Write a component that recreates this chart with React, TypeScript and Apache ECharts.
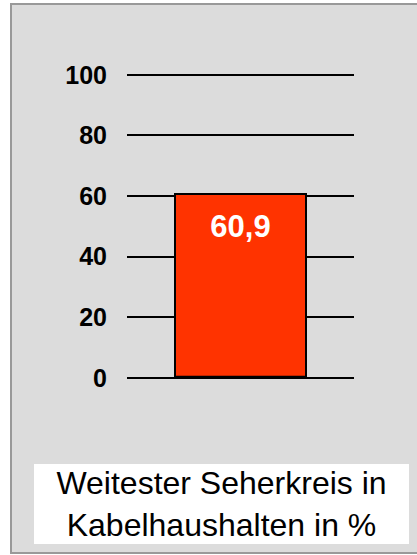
import React, { useEffect, useRef } from "react";
import * as echarts from "echarts";

const categories = ["Kabelhaushalte"];
const values = [60.9];
const yTicks = [0, 20, 40, 60, 80, 100];
const captionLines = ["Weitester Seherkreis in", "Kabelhaushalten in %"];

export default function App() {
  const ref = useRef<HTMLDivElement>(null);
  useEffect(() => {
    if (!ref.current) return;
    const chart = echarts.init(ref.current, undefined, { renderer: "svg" });
    chart.setOption({
      animation: false,
      backgroundColor: "#ffffff",
      graphic: [
        {
          type: "rect",
          z: -10,
          shape: { x: 11, y: 4, width: 420, height: 549 },
          style: { fill: "#DCDCDC", stroke: "#999999", lineWidth: 2 },
          silent: true,
        },
        {
          type: "rect",
          z: -5,
          shape: { x: 34, y: 464, width: 375, height: 80 },
          style: { fill: "#ffffff" },
          silent: true,
        },
        {
          type: "text",
          x: 221.5,
          y: 504,
          style: {
            text: captionLines.join("\n"),
            fill: "#000000",
            font: "32px Arial, 'Liberation Sans', sans-serif",
            align: "center",
            verticalAlign: "middle",
            lineHeight: 42,
          },
        },
      ],
      grid: { left: 127, top: 74.5, width: 227, height: 303.3, containLabel: false },
      xAxis: {
        type: "category",
        data: categories,
        show: false,
      },
      yAxis: {
        type: "value",
        min: yTicks[0],
        max: yTicks[yTicks.length - 1],
        interval: 20,
        axisLine: { show: false },
        axisTick: { show: false },
        axisLabel: {
          margin: 20,
          color: "#000000",
          fontSize: 25,
          fontWeight: "bold",
          fontFamily: "Arial, 'Liberation Sans', sans-serif",
        },
        splitLine: { show: true, lineStyle: { color: "#000000", width: 2 } },
      },
      series: [
        {
          type: "bar",
          data: values,
          barWidth: 133,
          itemStyle: { color: "#FF3300", borderColor: "#000000", borderWidth: 2 },
          label: {
            show: true,
            position: "insideTop",
            distance: 18,
            formatter: (p: any) => String(p.value).replace(".", ","),
            color: "#ffffff",
            fontSize: 31,
            fontWeight: "bold",
            fontFamily: "Arial, 'Liberation Sans', sans-serif",
          },
          z: 3,
        },
      ],
    });
    return () => chart.dispose();
  }, []);
  return (
    <div
      ref={ref}
      style={{ position: "absolute", left: 0, top: 0, width: 417, height: 555 }}
    />
  );
}
